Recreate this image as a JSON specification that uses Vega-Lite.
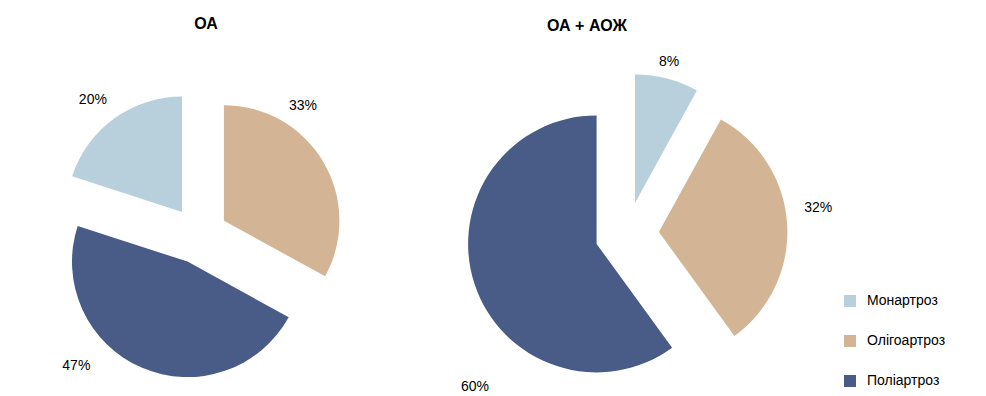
{
  "$schema": "https://vega.github.io/schema/vega-lite/v6.json",
  "padding": {"top": 16, "left": 0, "right": 0, "bottom": 0},
  "background": "white",
  "spacing": 0,
  "config": {
    "view": {"stroke": null},
    "font": "Liberation Sans, sans-serif",
    "title": {"fontSize": 16, "font": "Liberation Sans, sans-serif", "fontWeight": "bold", "color": "#000000"},
    "text": {"font": "Liberation Sans, sans-serif", "fontSize": 14, "color": "#000000"},
    "legend": {
      "orient": "none", "legendX": 843, "legendY": 222,
      "symbolType": "square", "symbolSize": 144, "symbolStrokeWidth": 0,
      "labelFont": "Liberation Sans, sans-serif", "labelFontSize": 14, "labelColor": "#000000",
      "labelOffset": 10, "rowPadding": 26
    }
  },
  "datasets": {
    "oa": [
      {"cat": "Монартроз", "value": 20, "label": "20%"},
      {"cat": "Олігоартроз", "value": 33, "label": "33%"},
      {"cat": "Поліартроз", "value": 47, "label": "47%"}
    ],
    "oaaoz": [
      {"cat": "Монартроз", "value": 8, "label": "8%"},
      {"cat": "Олігоартроз", "value": 32, "label": "32%"},
      {"cat": "Поліартроз", "value": 60, "label": "60%"}
    ]
  },
  "hconcat": [
    {
      "width": 398, "height": 324,
      "title": {"text": "ОА", "dx": 7, "offset": 40},
      "data": {"name": "oa"},
      "transform": [{"stack": "value", "groupby": [], "sort": [{"field": "cat", "order": "ascending"}], "as": ["v0", "v1"]}],
      "encoding": {
        "theta": {"field": "v0", "type": "quantitative", "stack": null, "scale": {"domain": [0, 100], "range": [-1.2566, 5.0265]}}
      },
      "layer": [
        {"transform": [{"filter": "datum.cat === 'Монартроз'"}],
         "mark": {"type": "arc", "outerRadius": 115.5, "xOffset": -17, "yOffset": -22},
         "encoding": {"theta2": {"field": "v1"},
           "color": {"field": "cat", "type": "nominal", "scale": {"domain": ["Монартроз", "Олігоартроз", "Поліартроз"], "range": ["#b8d0dc", "#d3b596", "#485c87"]}, "legend": {"title": null}}}},
        {"transform": [{"filter": "datum.cat === 'Олігоартроз'"}],
         "mark": {"type": "arc", "outerRadius": 115.5, "xOffset": 24.9, "yOffset": -13.3},
         "encoding": {"theta2": {"field": "v1"}, "color": {"field": "cat", "type": "nominal"}}},
        {"transform": [{"filter": "datum.cat === 'Поліартроз'"}],
         "mark": {"type": "arc", "outerRadius": 115.5, "xOffset": -11.5, "yOffset": 27.6},
         "encoding": {"theta2": {"field": "v1"}, "color": {"field": "cat", "type": "nominal"}}},
        {"transform": [{"filter": "datum.cat === 'Монартроз'"}],
         "mark": {"type": "text", "radius": 171, "thetaOffset": 0.587},
         "encoding": {"text": {"field": "label"}}},
        {"transform": [{"filter": "datum.cat === 'Олігоартроз'"}],
         "mark": {"type": "text", "radius": 165, "thetaOffset": 0.682},
         "encoding": {"text": {"field": "label"}}},
        {"transform": [{"filter": "datum.cat === 'Поліартроз'"}],
         "mark": {"type": "text", "radius": 180, "thetaOffset": 1.818},
         "encoding": {"text": {"field": "label"}}}
      ]
    },
    {
      "width": 458, "height": 324,
      "title": {"text": "ОА + АОЖ", "dx": -40, "offset": 21},
      "data": {"name": "oaaoz"},
      "transform": [{"stack": "value", "groupby": [], "sort": [{"field": "cat", "order": "ascending"}], "as": ["v0", "v1"]}],
      "encoding": {
        "theta": {"field": "v0", "type": "quantitative", "stack": null, "scale": {"domain": [0, 100], "range": [0, 6.2832]}}
      },
      "layer": [
        {"transform": [{"filter": "datum.cat === 'Монартроз'"}],
         "mark": {"type": "arc", "outerRadius": 128.5, "xOffset": 8, "yOffset": -31},
         "encoding": {"theta2": {"field": "v1"}, "color": {"field": "cat", "type": "nominal"}}},
        {"transform": [{"filter": "datum.cat === 'Олігоартроз'"}],
         "mark": {"type": "arc", "outerRadius": 128.5, "xOffset": 31.9, "yOffset": -2},
         "encoding": {"theta2": {"field": "v1"}, "color": {"field": "cat", "type": "nominal"}}},
        {"transform": [{"filter": "datum.cat === 'Поліартроз'"}],
         "mark": {"type": "arc", "outerRadius": 128.5, "xOffset": -30.4, "yOffset": 9.9},
         "encoding": {"theta2": {"field": "v1"}, "color": {"field": "cat", "type": "nominal"}}},
        {"transform": [{"filter": "datum.cat === 'Монартроз'"}],
         "mark": {"type": "text", "radius": 177, "thetaOffset": 0.240},
         "encoding": {"text": {"field": "label"}}},
        {"transform": [{"filter": "datum.cat === 'Олігоартроз'"}],
         "mark": {"type": "text", "radius": 193, "thetaOffset": 0.934},
         "encoding": {"text": {"field": "label"}}},
        {"transform": [{"filter": "datum.cat === 'Поліартроз'"}],
         "mark": {"type": "text", "radius": 216, "thetaOffset": 1.4095},
         "encoding": {"text": {"field": "label"}}}
      ]
    }
  ]
}
